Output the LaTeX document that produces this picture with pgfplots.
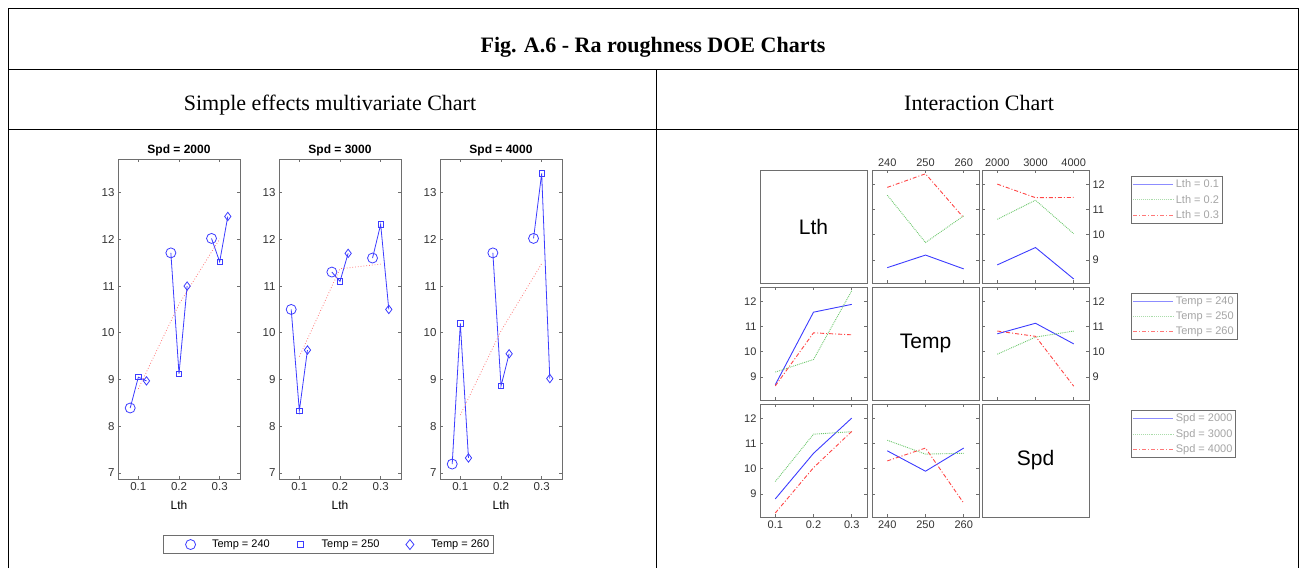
\documentclass[border=0pt]{standalone}
\usepackage{fontspec}
\setmainfont{Liberation Serif}
\newfontfamily\arial{Liberation Sans}
\usepackage{pgfplots}
\pgfplotsset{compat=1.18}

\definecolor{mblue}{RGB}{60,60,255}
\definecolor{mgreen}{RGB}{110,200,110}
\definecolor{mred}{RGB}{255,70,70}
\definecolor{lred}{RGB}{255,120,120}
\definecolor{boxgray}{RGB}{110,110,110}
\definecolor{legtext}{RGB}{165,165,165}
\definecolor{lblue}{RGB}{140,140,255}
\definecolor{lgreen}{RGB}{170,220,170}
\definecolor{legred}{RGB}{255,120,120}

\pgfplotsset{
  mbase/.style={
    scale only axis, anchor=north west,
    axis line style={boxgray, line width=0.9pt},
    tick style={boxgray, line width=0.6pt}, tick align=inside, major tick length=3pt,
    /pgf/number format/assume math mode=true,
    /pgf/number format/1000 sep={},
    scaled ticks=false,
    tick label style={font=\arial\fontsize{11}{13}\selectfont, text=black!80},
  },
  leftp/.style={mbase, width=122pt, height=320pt,
    xmin=0.05, xmax=0.35, ymin=6.87, ymax=13.72,
    tick label style={font=\arial\fontsize{11.5}{13}\selectfont, text=black!80},
    xtick={0.1,0.2,0.3}, xticklabels={0.1,0.2,0.3}, ytick={7,8,9,10,11,12,13},
    xlabel={Lth}, xlabel style={font=\arial\fontsize{12}{14}\selectfont, yshift=-3pt},
    title style={font=\arial\bfseries\fontsize{12}{14}\selectfont, yshift=-7pt},
  },
  inter/.style={mbase, width=107pt, height=113pt, ymin=8.08, ymax=12.57,
    ytick={9,10,11,12}, yticklabels={}, xticklabels={}},
  col1/.style={xmin=0.06, xmax=0.34, xtick={0.1,0.2,0.3}},
  col2/.style={xmin=236, xmax=264, xtick={240,250,260}},
  col3/.style={xmin=1600, xmax=4400, xtick={2000,3000,4000}},
  diag/.style={mbase, width=107pt, height=113pt, xmin=0, xmax=1, ymin=0, ymax=1, xtick=\empty, ytick=\empty},
  lA/.style={mblue, line width=0.9pt, no marks},
  lB/.style={mgreen, densely dotted, line width=0.9pt, no marks},
  lC/.style={mred, dash pattern=on 4pt off 2pt on 1pt off 2pt, line width=0.9pt, no marks},
  lineP/.style={mblue, line width=0.8pt, no marks, unbounded coords=jump},
  meanP/.style={lred, dotted, line width=0.8pt, no marks},
  mkO/.style={only marks, mblue, mark=o, mark size=5pt, mark options={fill=white, line width=0.8pt}},
  mkS/.style={only marks, mblue, mark=square, mark size=2.7pt, mark options={fill=white, line width=0.8pt}},
  mkD/.style={only marks, mblue, mark=diamond, mark size=4.2pt, mark options={fill=white, line width=0.8pt}},
  ileg/.style={
    legend style={at={(1.3925,#1)}, anchor=north west, draw=boxgray, line width=0.9pt,
      font=\arial\fontsize{11}{13}\selectfont\color{legtext}, inner sep=1.5pt, row sep=1.8pt,
      cells={anchor=west}},
    legend image code/.code={\draw[##1] (0pt,0pt) -- (40pt,0pt);},
  },
}

\begin{document}
\begin{tikzpicture}
% ---------- table frame ----------
\draw[black, line width=0.8pt] (8.5pt,-568pt) -- (8.5pt,-8.5pt) -- (1298.5pt,-8.5pt) -- (1298.5pt,-568pt);
\draw[black, line width=0.8pt] (8.5pt,-69.5pt) -- (1298.5pt,-69.5pt);
\draw[black, line width=0.8pt] (8.5pt,-129.5pt) -- (1298.5pt,-129.5pt);
\draw[black, line width=0.8pt] (656.5pt,-69.5pt) -- (656.5pt,-568pt);
\node[anchor=base, font=\bfseries\fontsize{22}{26}\selectfont, inner sep=0pt] at (653pt,-52pt) {Fig. A.6 - Ra roughness DOE Charts};
\node[anchor=base, font=\fontsize{22}{26}\selectfont, inner sep=0pt] at (330pt,-110pt) {Simple effects multivariate Chart};
\node[anchor=base, font=\fontsize{22}{26}\selectfont, inner sep=0pt] at (979pt,-110pt) {Interaction Chart};

% ---------- Simple effects: Spd = 2000 ----------
\begin{axis}[leftp, at={(118pt,-159pt)}, title={Spd = 2000}]
\addplot[lineP] coordinates {(0.08,8.39)(0.1,9.05)(0.12,8.97)(0.15,nan)(0.18,11.71)(0.2,9.12)(0.22,11.0)(0.25,nan)(0.28,12.02)(0.3,11.52)(0.32,12.49)};
\addplot[meanP] coordinates {(0.1,8.80)(0.2,10.61)(0.3,12.01)};
\addplot[mkO] coordinates {(0.08,8.39)(0.18,11.71)(0.28,12.02)};
\addplot[mkS] coordinates {(0.1,9.05)(0.2,9.12)(0.3,11.52)};
\addplot[mkD] coordinates {(0.12,8.97)(0.22,11.0)(0.32,12.49)};
\end{axis}

% ---------- Spd = 3000 ----------
\begin{axis}[leftp, at={(279pt,-159pt)}, title={Spd = 3000},
  legend columns=3,
  legend style={at={(0.407,-0.175)}, anchor=north, draw=boxgray, line width=0.9pt,
    font=\arial\fontsize{11}{13}\selectfont, inner sep=2.5pt,
    /tikz/every even column/.append style={column sep=4pt}}]
\addplot[lineP, forget plot] coordinates {(0.08,10.5)(0.1,8.33)(0.12,9.63)(0.15,nan)(0.18,11.3)(0.2,11.1)(0.22,11.7)(0.25,nan)(0.28,11.6)(0.3,12.32)(0.32,10.5)};
\addplot[meanP, forget plot] coordinates {(0.1,9.49)(0.2,11.37)(0.3,11.47)};
\addplot[mkO, forget plot] coordinates {(0.08,10.5)(0.18,11.3)(0.28,11.6)};
\addplot[mkS, forget plot] coordinates {(0.1,8.33)(0.2,11.1)(0.3,12.32)};
\addplot[mkD, forget plot] coordinates {(0.12,9.63)(0.22,11.7)(0.32,10.5)};
\addlegendimage{legend image code/.code={\draw[mblue, line width=0.8pt] (10pt,0pt) circle[radius=5pt]; \path (-14pt,-5pt) (29pt,5pt);}}
\addlegendentry{Temp = 240}
\addlegendimage{legend image code/.code={\draw[mblue, line width=0.8pt] (7.3pt,-2.7pt) rectangle (12.7pt,2.7pt); \path (-14pt,-5pt) (29pt,5pt);}}
\addlegendentry{Temp = 250}
\addlegendimage{legend image code/.code={\draw[mblue, line width=0.8pt] (10pt,-5pt) -- (14pt,0pt) -- (10pt,5pt) -- (6pt,0pt) -- cycle; \path (-14pt,-5pt) (29pt,5pt);}}
\addlegendentry{Temp = 260}
\end{axis}

% ---------- Spd = 4000 ----------
\begin{axis}[leftp, at={(440pt,-159pt)}, title={Spd = 4000}]
\addplot[lineP] coordinates {(0.08,7.19)(0.1,10.2)(0.12,7.32)(0.15,nan)(0.18,11.71)(0.2,8.86)(0.22,9.55)(0.25,nan)(0.28,12.02)(0.3,13.41)(0.32,9.02)};
\addplot[meanP] coordinates {(0.1,8.24)(0.2,10.04)(0.3,11.48)};
\addplot[mkO] coordinates {(0.08,7.19)(0.18,11.71)(0.28,12.02)};
\addplot[mkS] coordinates {(0.1,10.2)(0.2,8.86)(0.3,13.41)};
\addplot[mkD] coordinates {(0.12,7.32)(0.22,9.55)(0.32,9.02)};
\end{axis}

% ---------- Interaction chart ----------
% row 1
\begin{axis}[diag, at={(760pt,-170pt)}]
\node[font=\arial\fontsize{21}{24}\selectfont] at (axis description cs:0.5,0.5) {Lth};
\end{axis}
\begin{axis}[inter, col2, at={(872pt,-170pt)}, xticklabel pos=top, xticklabels={240,250,260}]
\addplot[lA] coordinates {(240,8.69)(250,9.19)(260,8.64)};
\addplot[lB] coordinates {(240,11.57)(250,9.69)(260,10.75)};
\addplot[lC] coordinates {(240,11.88)(250,12.42)(260,10.67)};
\end{axis}
\begin{axis}[inter, col3, at={(982pt,-170pt)}, xticklabel pos=top, xticklabels={2000,3000,4000},
  yticklabel pos=right, yticklabels={9,10,11,12}, ileg=0.947]
\addplot[lA, forget plot] coordinates {(2000,8.80)(3000,9.49)(4000,8.24)};
\addplot[lB, forget plot] coordinates {(2000,10.61)(3000,11.37)(4000,10.04)};
\addplot[lC, forget plot] coordinates {(2000,12.01)(3000,11.47)(4000,11.48)};
\addlegendimage{draw=lblue, line width=0.9pt}\addlegendentry{Lth = 0.1}
\addlegendimage{draw=lgreen, densely dotted, line width=0.9pt}\addlegendentry{Lth = 0.2}
\addlegendimage{draw=legred, dash pattern=on 4pt off 2pt on 1pt off 2pt, line width=0.9pt}\addlegendentry{Lth = 0.3}
\end{axis}
% row 2
\begin{axis}[inter, col1, at={(760pt,-287pt)}, yticklabels={9,10,11,12}]
\addplot[lA] coordinates {(0.1,8.69)(0.2,11.57)(0.3,11.88)};
\addplot[lB] coordinates {(0.1,9.19)(0.2,9.69)(0.3,12.42)};
\addplot[lC] coordinates {(0.1,8.64)(0.2,10.75)(0.3,10.67)};
\end{axis}
\begin{axis}[diag, at={(872pt,-287pt)}]
\node[font=\arial\fontsize{21}{24}\selectfont] at (axis description cs:0.5,0.5) {Temp};
\end{axis}
\begin{axis}[inter, col3, at={(982pt,-287pt)}, yticklabel pos=right, yticklabels={9,10,11,12}, ileg=0.95]
\addplot[lA, forget plot] coordinates {(2000,10.71)(3000,11.13)(4000,10.31)};
\addplot[lB, forget plot] coordinates {(2000,9.90)(3000,10.58)(4000,10.82)};
\addplot[lC, forget plot] coordinates {(2000,10.82)(3000,10.61)(4000,8.63)};
\addlegendimage{draw=lblue, line width=0.9pt}\addlegendentry{Temp = 240}
\addlegendimage{draw=lgreen, densely dotted, line width=0.9pt}\addlegendentry{Temp = 250}
\addlegendimage{draw=legred, dash pattern=on 4pt off 2pt on 1pt off 2pt, line width=0.9pt}\addlegendentry{Temp = 260}
\end{axis}
% row 3
\begin{axis}[inter, col1, at={(760pt,-404pt)}, yticklabels={9,10,11,12}, xticklabels={0.1,0.2,0.3}]
\addplot[lA] coordinates {(0.1,8.80)(0.2,10.61)(0.3,12.01)};
\addplot[lB] coordinates {(0.1,9.49)(0.2,11.37)(0.3,11.47)};
\addplot[lC] coordinates {(0.1,8.24)(0.2,10.04)(0.3,11.48)};
\end{axis}
\begin{axis}[inter, col2, at={(872pt,-404pt)}, xticklabels={240,250,260}]
\addplot[lA] coordinates {(240,10.71)(250,9.90)(260,10.82)};
\addplot[lB] coordinates {(240,11.13)(250,10.58)(260,10.61)};
\addplot[lC] coordinates {(240,10.31)(250,10.82)(260,8.63)};
\end{axis}
\begin{axis}[diag, at={(982pt,-404pt)}, ileg=0.947]
\addlegendimage{draw=lblue, line width=0.9pt}\addlegendentry{Spd = 2000}
\addlegendimage{draw=lgreen, densely dotted, line width=0.9pt}\addlegendentry{Spd = 3000}
\addlegendimage{draw=legred, dash pattern=on 4pt off 2pt on 1pt off 2pt, line width=0.9pt}\addlegendentry{Spd = 4000}
\node[font=\arial\fontsize{21}{24}\selectfont] at (axis description cs:0.5,0.5) {Spd};
\end{axis}

\pgfresetboundingbox
\path (0pt,0pt) rectangle (1306pt,-568pt);
\end{tikzpicture}
\end{document}
